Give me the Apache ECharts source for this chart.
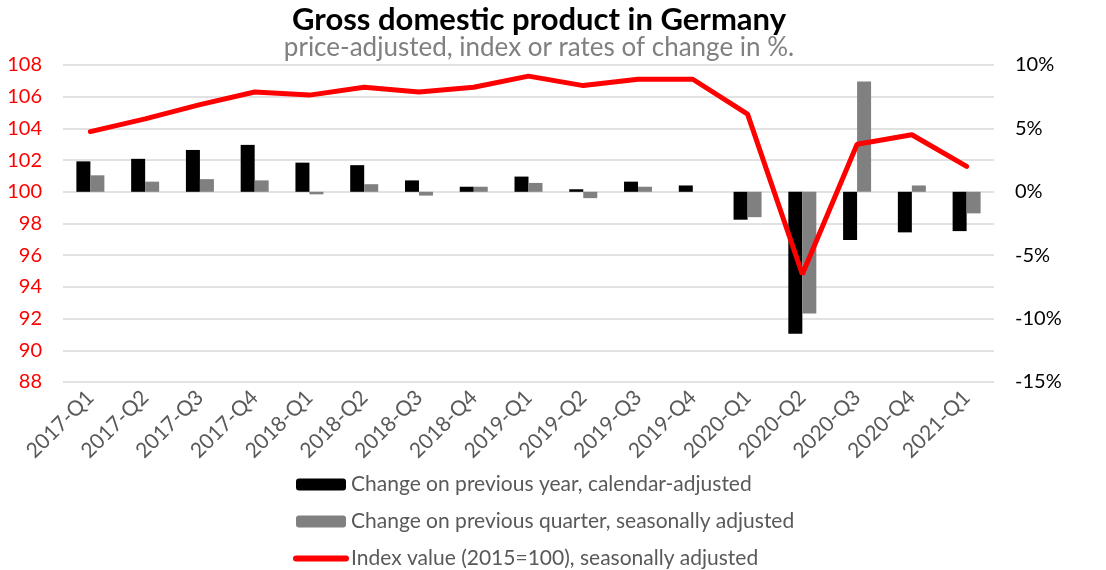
<!DOCTYPE html>
<html>
<head>
<meta charset="utf-8">
<script src="https://cdn.jsdelivr.net/npm/echarts@6/dist/echarts.min.js"></script>
<style>
  html, body { margin: 0; padding: 0; background: #fff; }
  #gdp { width: 1106px; height: 570px; }
</style>
</head>
<body>
<div id="gdp"></div>
<script>
  // quarters on the x axis
  var quarters = ['2017-Q1', '2017-Q2', '2017-Q3', '2017-Q4', '2018-Q1', '2018-Q2', '2018-Q3', '2018-Q4',
    '2019-Q1', '2019-Q2', '2019-Q3', '2019-Q4', '2020-Q1', '2020-Q2', '2020-Q3', '2020-Q4', '2021-Q1']
  // change on previous year, calendar-adjusted (%)
  var yearChange = [2.4, 2.6, 3.3, 3.7, 2.3, 2.1, 0.9, 0.4, 1.2, 0.2, 0.8, 0.5, -2.2, -11.2, -3.8, -3.2, -3.1]
  // change on previous quarter, seasonally adjusted (%)
  var quarterChange = [1.3, 0.8, 1.0, 0.9, -0.2, 0.6, -0.3, 0.4, 0.7, -0.5, 0.4, 0.0, -2.0, -9.6, 8.7, 0.5, -1.7]
  // index value (2015=100), seasonally adjusted
  var indexValue = [103.8, 104.6, 105.5, 106.3, 106.1, 106.6, 106.3, 106.6, 107.3, 106.7, 107.1, 107.1,
    104.9, 94.8, 103.0, 103.6, 101.6]

  var font = 'Lato, "Open Sans", sans-serif'
  var chart = echarts.init(document.getElementById('gdp'))
  var option = {
    backgroundColor: '#fff',
    textStyle: { fontFamily: font },
    title: {
      text: 'Gross domestic product in Germany',
      subtext: 'price-adjusted, index or rates of change in %.',
      left: 534,
      textAlign: 'center',
      top: 0,
      padding: [4, 5, 5, 5],
      itemGap: 0,
      textStyle: { fontFamily: font, fontSize: 31, fontWeight: 'bold', color: '#000' },
      subtextStyle: { fontFamily: font, fontSize: 26, color: '#808080' }
    },
    legend: {
      orient: 'vertical',
      left: 293,
      top: 474,
      height: 100,
      padding: 0,
      itemWidth: 50,
      itemHeight: 12,
      itemGap: 16,
      textStyle: { fontFamily: font, fontSize: 21, color: '#595959' },
      data: [
        'Change on previous year, calendar-adjusted',
        'Change on previous quarter, seasonally adjusted',
        {
          name: 'Index value (2015=100), seasonally adjusted',
          itemStyle: { opacity: 0 },
          lineStyle: { width: 6, cap: 'round', color: '#ff0000' }
        }
      ]
    },
    grid: { left: 63, right: 112, top: 65, bottom: 188 },
    xAxis: {
      type: 'category',
      data: quarters,
      axisLine: { show: false },
      axisTick: { show: false },
      axisLabel: { rotate: 45, fontSize: 21, color: '#595959', margin: 12, interval: 0 }
    },
    yAxis: [
      {
        type: 'value',
        min: 88,
        max: 108,
        interval: 2,
        axisLabel: { fontSize: 20, color: '#ff0000', margin: 21 },
        splitLine: { lineStyle: { color: '#d9d9d9', width: 1.5 } }
      },
      {
        type: 'value',
        min: -15,
        max: 10,
        interval: 5,
        axisLabel: { fontSize: 20, color: '#000', margin: 21, formatter: '{value}%' },
        splitLine: { show: false }
      }
    ],
    series: [
      {
        name: 'Change on previous year, calendar-adjusted',
        type: 'bar',
        yAxisIndex: 1,
        barWidth: 14,
        barGap: '0%',
        itemStyle: { color: '#000' },
        data: yearChange
      },
      {
        name: 'Change on previous quarter, seasonally adjusted',
        type: 'bar',
        yAxisIndex: 1,
        barWidth: 14,
        itemStyle: { color: '#808080' },
        data: quarterChange
      },
      {
        name: 'Index value (2015=100), seasonally adjusted',
        type: 'line',
        yAxisIndex: 0,
        symbol: 'none',
        lineStyle: { color: '#ff0000', width: 5, cap: 'round' },
        itemStyle: { color: '#ff0000' },
        data: indexValue
      }
    ]
  }
  chart.setOption(option)
</script>
</body>
</html>
